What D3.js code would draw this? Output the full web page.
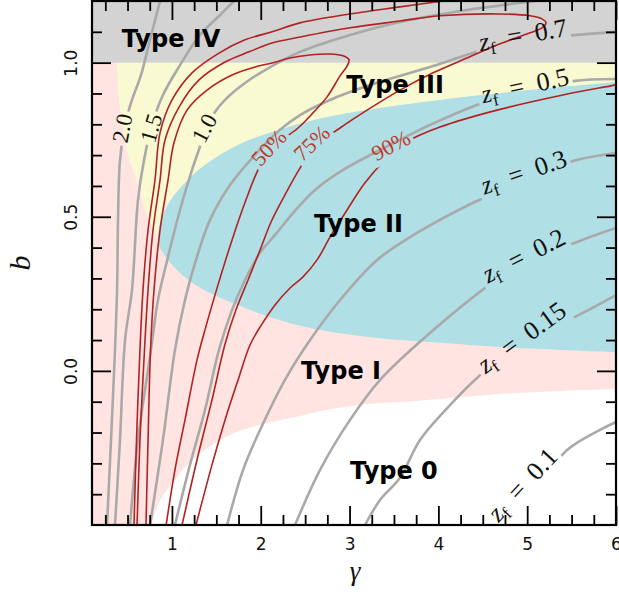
<!DOCTYPE html>
<html>
<head>
<meta charset="utf-8">
<script src="https://cdn.jsdelivr.net/npm/d3@7/dist/d3.min.js"></script>
<style>
  body { margin: 0; background: #fff; }
</style>
</head>
<body>
<svg id="chart" width="619" height="596"></svg>
<script>
// z_f contours, [gamma, b] pairs
var zfLevels = ['2.0', '1.5', '1.0', '0.7', '0.5', '0.3', '0.2', '0.15', '0.1'];
var zf20 = [[0.269,-0.5],[0.314,-0.224],[0.359,0.068],[0.382,0.262],[0.393,0.490],[0.415,0.684],[0.472,0.798],[0.550,0.879],[0.652,0.960],[0.753,1.074],[0.866,1.2]];
var zf15 = [[0.359,-0.5],[0.415,-0.224],[0.472,0.100],[0.550,0.262],[0.618,0.555],[0.686,0.684],[0.776,0.798],[0.899,0.895],[1.091,0.992],[1.316,1.090],[1.519,1.148],[1.699,1.2]];
var zf10 = [[0.528,-0.5],[0.618,-0.224],[0.764,0.068],[0.843,0.230],[0.967,0.383],[1.091,0.522],[1.226,0.652],[1.316,0.727],[1.395,0.788],[1.485,0.840],[1.632,0.889],[1.823,0.934],[2.048,0.976],[2.442,1.035],[3.005,1.090],[3.568,1.132],[4.322,1.171],[5.089,1.2]];
var zf07 = [[0.753,-0.5],[0.899,-0.224],[1.034,0.068],[1.147,0.230],[1.271,0.360],[1.429,0.490],[1.654,0.603],[1.936,0.701],[2.217,0.782],[2.442,0.830],[2.780,0.879],[3.197,0.924],[3.940,0.989],[4.469,1.038],[5.144,1.077],[6.0,1.100]];
var zf05 = [[1.034,-0.5],[1.203,-0.305],[1.372,-0.127],[1.530,0.068],[1.677,0.198],[1.823,0.295],[1.992,0.383],[2.161,0.441],[2.363,0.512],[2.611,0.587],[2.927,0.652],[3.456,0.733],[3.906,0.798],[4.469,0.866],[4.976,0.905],[5.516,0.940],[6.0,0.947]];
var zf03 = [[1.621,-0.5],[1.801,-0.321],[1.992,-0.192],[2.273,-0.029],[2.555,0.100],[2.893,0.230],[3.310,0.360],[3.681,0.434],[4.018,0.490],[4.435,0.551],[4.964,0.616],[5.516,0.681],[6.0,0.707]];
var zf02 = [[2.386,-0.5],[2.668,-0.321],[3.005,-0.159],[3.344,-0.029],[3.906,0.123],[4.660,0.295],[5.033,0.344],[5.482,0.409],[6.0,0.464]];
var zf015 = [[3.174,-0.5],[3.343,-0.419],[3.568,-0.347],[3.793,-0.224],[4.131,-0.111],[4.435,-0.023],[4.942,0.097],[5.516,0.172],[6.0,0.246]];
var zf01 = [[4.773,-0.5],[5.10,-0.39],[5.449,-0.257],[6.0,-0.166]];
var zfCurves = [zf20, zf15, zf10, zf07, zf05, zf03, zf02, zf015, zf01];

// fraction contours
var pctLevels = ['50%', '75%', '90%'];
var p50 = [[0.708,-0.5],[0.731,-0.224],[0.759,0.068],[0.798,0.262],[0.866,0.457],[0.956,0.619],[1.023,0.740],[1.170,0.846],[1.395,0.911],[1.677,0.960],[1.936,0.986],[2.127,0.999],[2.330,1.015],[2.555,1.025],[2.780,1.028],[2.927,1.022],[2.994,1.009],[2.972,0.989],[2.893,0.957],[2.747,0.889],[2.588,0.837],[2.420,0.788],[2.239,0.749],[2.082,0.710],[1.958,0.645],[1.834,0.555],[1.677,0.425],[1.519,0.279],[1.372,0.133],[1.282,0.035],[1.147,-0.159],[1.034,-0.321],[0.935,-0.5]];
var p75 = [[0.607,-0.5],[0.640,-0.224],[0.691,0.068],[0.731,0.262],[0.787,0.457],[0.866,0.619],[0.922,0.749],[1.080,0.856],[1.305,0.944],[1.598,1.002],[1.868,1.035],[2.127,1.064],[2.442,1.083],[3.005,1.113],[3.568,1.135],[4.018,1.152],[4.694,1.158],[5.033,1.152],[5.167,1.142],[5.212,1.129],[5.167,1.113],[5.033,1.097],[4.694,1.061],[4.322,1.015],[3.940,0.967],[3.568,0.911],[3.197,0.846],[2.893,0.788],[2.611,0.727],[2.442,0.658],[2.273,0.571],[2.116,0.483],[1.992,0.392],[1.857,0.295],[1.721,0.198],[1.598,0.087],[1.451,-0.094],[1.282,-0.289],[1.114,-0.5]];
var p90Left = [[0.573,-0.5],[0.601,-0.224],[0.640,0.068],[0.674,0.262],[0.731,0.457],[0.809,0.619],[0.866,0.772],[1.001,0.879],[1.226,0.967],[1.530,1.031],[1.823,1.074],[2.127,1.100],[2.442,1.129],[3.005,1.158],[3.568,1.181],[4.131,1.203],[4.469,1.216]];
var p90Right = [[6.2,0.94],[6.0,0.928],[5.403,0.895],[4.660,0.846],[4.018,0.791],[3.624,0.740],[3.399,0.684],[3.174,0.610],[2.972,0.522],[2.780,0.434],[2.634,0.360],[2.476,0.305],[2.330,0.269],[2.161,0.214],[1.992,0.142],[1.879,0.084],[1.744,-0.030],[1.598,-0.159],[1.451,-0.305],[1.271,-0.5]];

// region boundaries
var typeNames = ['Type IV', 'Type III', 'Type II', 'Type I', 'Type 0'];
var typeIVFloor = 1.0;
var yellowLeft = [[0.375,1.05],[0.382,1.0],[0.404,0.879],[0.449,0.782],[0.505,0.701],[0.562,0.652],[0.618,0.603],[0.663,0.555],[0.719,0.506],[0.776,0.464],[0.843,0.425]];
var blueTop = [[0.843,0.425],[0.854,0.464],[0.899,0.506],[1.001,0.561],[1.136,0.606],[1.271,0.645],[1.485,0.691],[1.767,0.736],[2.127,0.775],[2.555,0.811],[3.118,0.843],[4.018,0.879],[4.919,0.908],[6.0,0.937]];
var blueBottom = [[6.0,0.061],[5.370,0.068],[4.694,0.077],[4.018,0.091],[3.568,0.100],[3.118,0.113],[2.555,0.139],[2.127,0.172],[1.767,0.211],[1.429,0.253],[1.203,0.292],[1.034,0.334],[0.922,0.373],[0.854,0.405],[0.843,0.425]];
var whiteTop = [[0.77,-0.5],[0.866,-0.419],[1.034,-0.354],[1.203,-0.296],[1.417,-0.247],[1.710,-0.201],[1.992,-0.175],[2.442,-0.146],[2.747,-0.127],[3.230,-0.107],[3.568,-0.101],[4.018,-0.091],[4.694,-0.075],[5.370,-0.065],[6.0,-0.059]];

// ticks
var xTicks = [1, 2, 3, 4, 5, 6];
var yTicks = [0.0, 0.5, 1.0];

// label placement: [gamma, b, angle]
var zfLabelAt = [[0.438,0.788,-79],[0.764,0.788,-74],[1.362,0.788,-62],[4.953,1.088,-10],[4.976,0.924,-12],[4.964,0.643,-19],[4.964,0.372,-27],[4.942,0.107,-36],[4.953,-0.37,-47]];
var pctLabelAt = [[2.093,0.723,-47],[2.577,0.738,-44],[3.467,0.730,-28]];
var typeLabelAt = [[0.990,1.051],[3.512,0.902],[3.101,0.451],[2.904,-0.026],[3.500,-0.351]];

var svg = d3.select('#chart');
var x = d3.scaleLinear().domain([0.1, 6]).range([92, 616]);
var y = d3.scaleLinear().domain([-0.5, 1.2]).range([525, 1]);

var defs = svg.append('defs');
defs.append('clipPath').attr('id', 'plotClip').append('rect')
  .attr('x', x(0.1)).attr('y', y(1.2))
  .attr('width', x(6) - x(0.1)).attr('height', y(-0.5) - y(1.2));

var curve = d3.line()
  .x(function (d) { return x(d[0]); })
  .y(function (d) { return y(d[1]); })
  .curve(d3.curveCatmullRom.alpha(0.5));

function cont(pts) { return curve(pts).replace(/^M/, 'L'); }
function pt(g, b) { return 'L' + x(g) + ',' + y(b); }

var plot = svg.append('g').attr('clip-path', 'url(#plotClip)');

// regions
plot.append('rect')
  .attr('x', x(0.1)).attr('y', y(1.2))
  .attr('width', x(6) - x(0.1)).attr('height', y(-0.5) - y(1.2))
  .attr('fill', '#ffe4e1');

plot.append('path')
  .attr('d', curve(whiteTop) + pt(6.3, -0.059) + pt(6.3, -0.7) + pt(0.77, -0.7) + 'Z')
  .attr('fill', '#ffffff');

plot.append('path')
  .attr('d', curve(yellowLeft) + cont(blueTop) + pt(6.3, 0.937) + pt(6.3, 1.05) + 'Z')
  .attr('fill', '#fafad2');

plot.append('path')
  .attr('d', curve(blueTop) + pt(6.3, 0.937) + pt(6.3, 0.061) + cont(blueBottom) + 'Z')
  .attr('fill', '#b0dfe5');

plot.append('rect')
  .attr('x', x(0.1)).attr('y', y(1.2))
  .attr('width', x(6) - x(0.1)).attr('height', y(typeIVFloor) - y(1.2))
  .attr('fill', '#d3d3d3');

// contour lines
var grayG = plot.append('g');
zfCurves.forEach(function (c, i) {
  grayG.append('path')
    .attr('d', curve(c))
    .attr('fill', 'none')
    .attr('stroke', '#a9a9a9')
    .attr('stroke-width', 2.6)
    .attr('mask', 'url(#mz' + i + ')');
});

var redG = plot.append('g');
[p50, p75, p90Right].forEach(function (c, i) {
  redG.append('path')
    .attr('d', curve(c))
    .attr('fill', 'none')
    .attr('stroke', '#b22222')
    .attr('stroke-width', 1.6)
    .attr('mask', 'url(#mp' + i + ')');
});
redG.append('path')
  .attr('d', curve(p90Left))
  .attr('fill', 'none')
  .attr('stroke', '#b22222')
  .attr('stroke-width', 1.6);

// labels (and masks that cut the lines under them)
var labels = svg.append('g');

function addMask(id, node, padX, padY) {
  var bb = node.getBBox();
  var m = defs.append('mask').attr('id', id)
    .attr('maskUnits', 'userSpaceOnUse')
    .attr('x', 0).attr('y', 0).attr('width', 619).attr('height', 596);
  m.append('rect').attr('width', 619).attr('height', 596).attr('fill', '#fff');
  m.append('rect')
    .attr('transform', node.getAttribute('transform'))
    .attr('x', bb.x - padX).attr('y', bb.y - padY)
    .attr('width', bb.width + 2 * padX).attr('height', bb.height + 2 * padY)
    .attr('fill', '#000');
}

zfLevels.forEach(function (lev, i) {
  var p = zfLabelAt[i];
  var t = labels.append('text')
    .attr('transform', 'translate(' + x(p[0]) + ',' + y(p[1]) + ') rotate(' + p[2] + ')')
    .attr('text-anchor', 'middle')
    .attr('y', 8)
    .attr('font-family', 'Liberation Serif, serif')
    .attr('font-size', 26)
    .attr('fill', '#111');
  if (i < 3) {
    t.attr('font-size', 23).text(lev);
  } else {
    t.append('tspan').attr('font-style', 'italic').text('z');
    t.append('tspan').attr('font-size', 17).attr('dy', 5).text('f');
    t.append('tspan').attr('dy', -5).text('\u2002=\u20020' + lev.slice(1));
  }
  addMask('mz' + i, t.node(), 3, 2);
});

pctLevels.forEach(function (lev, i) {
  var p = pctLabelAt[i];
  var t = labels.append('text')
    .attr('transform', 'translate(' + x(p[0]) + ',' + y(p[1]) + ') rotate(' + p[2] + ')')
    .attr('text-anchor', 'middle')
    .attr('y', 7)
    .attr('font-family', 'Liberation Serif, serif')
    .attr('font-size', 22)
    .attr('fill', '#c0392b')
    .text(lev);
  addMask('mp' + i, t.node(), 3, 1);
});

typeNames.forEach(function (name, i) {
  var p = typeLabelAt[i];
  labels.append('text')
    .attr('x', x(p[0])).attr('y', y(p[1]))
    .attr('text-anchor', 'middle')
    .attr('font-family', 'DejaVu Sans, sans-serif')
    .attr('font-weight', 'bold')
    .attr('font-size', 24)
    .attr('fill', '#000')
    .text(name);
});

// axes, ticks inward on all four sides
var xMinor = d3.range(0.25, 6, 0.25).filter(function (d) { return d % 1 !== 0; });
var yMinor = d3.range(-0.4, 1.2, 0.1).map(function (d) { return +d.toFixed(1); })
  .filter(function (d) { return yTicks.indexOf(d) < 0; });

function styleAxis(g) {
  g.select('.domain').remove();
  g.selectAll('line').attr('stroke', '#000').attr('stroke-width', 1.8);
  g.selectAll('text').attr('font-family', 'DejaVu Sans, sans-serif').attr('font-size', 17).attr('fill', '#111');
}

var axBottom = svg.append('g').attr('transform', 'translate(0,' + y(-0.5) + ')');
axBottom.append('g').call(d3.axisBottom(x).tickValues(xTicks).tickSize(-19).tickPadding(13).tickFormat(d3.format('d'))).call(styleAxis);
axBottom.append('g').call(d3.axisBottom(x).tickValues(xMinor).tickSize(-10).tickFormat('')).call(styleAxis);

var axTop = svg.append('g').attr('transform', 'translate(0,' + y(1.2) + ')');
axTop.append('g').call(d3.axisTop(x).tickValues(xTicks).tickSize(-19).tickFormat('')).call(styleAxis);
axTop.append('g').call(d3.axisTop(x).tickValues(xMinor).tickSize(-10).tickFormat('')).call(styleAxis);

var axLeft = svg.append('g').attr('transform', 'translate(' + x(0.1) + ',0)');
axLeft.append('g').call(d3.axisLeft(y).tickValues(yTicks).tickSize(-19).tickFormat(d3.format('.1f'))).call(styleAxis)
  .selectAll('text')
    .attr('x', null).attr('dy', null)
    .attr('text-anchor', 'middle')
    .attr('transform', 'translate(-15,0) rotate(-90)');
axLeft.append('g').call(d3.axisLeft(y).tickValues(yMinor).tickSize(-10).tickFormat('')).call(styleAxis);

var axRight = svg.append('g').attr('transform', 'translate(' + x(6) + ',0)');
axRight.append('g').call(d3.axisRight(y).tickValues(yTicks).tickSize(-19).tickFormat('')).call(styleAxis);
axRight.append('g').call(d3.axisRight(y).tickValues(yMinor).tickSize(-10).tickFormat('')).call(styleAxis);

svg.append('rect')
  .attr('x', x(0.1)).attr('y', y(1.2))
  .attr('width', x(6) - x(0.1)).attr('height', y(-0.5) - y(1.2))
  .attr('fill', 'none').attr('stroke', '#000').attr('stroke-width', 2.2);

// axis titles
svg.append('text')
  .attr('x', 355).attr('y', 580)
  .attr('text-anchor', 'middle')
  .attr('font-family', 'Liberation Serif, serif')
  .attr('font-style', 'italic')
  .attr('font-size', 27)
  .attr('fill', '#111')
  .text('\u03b3');

svg.append('text')
  .attr('transform', 'translate(30,' + y(0.35) + ') rotate(-90)')
  .attr('text-anchor', 'middle')
  .attr('font-family', 'Liberation Serif, serif')
  .attr('font-style', 'italic')
  .attr('font-size', 30)
  .attr('fill', '#111')
  .text('b');
</script>
</body>
</html>
